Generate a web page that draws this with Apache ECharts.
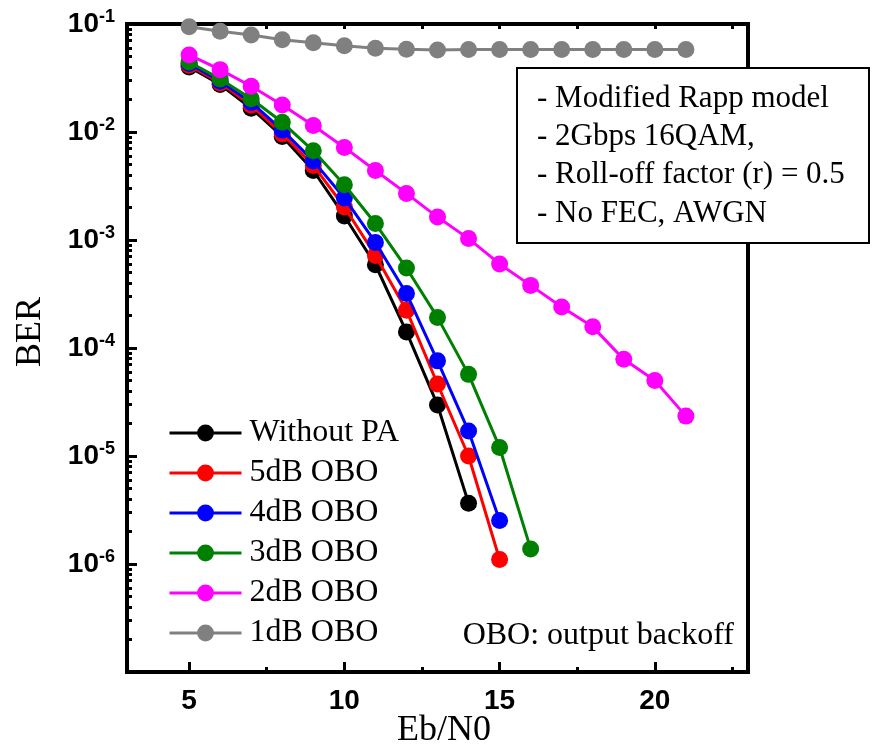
<!DOCTYPE html>
<html>
<head>
<meta charset="utf-8">
<script src="https://cdn.jsdelivr.net/npm/echarts@6/dist/echarts.min.js"></script>
<style>html,body{margin:0;padding:0;background:#fff}#c{width:881px;height:744px}</style>
</head>
<body>
<div id="c"></div>
<script>
// ---- data ----
const seriesNames = ['Without PA', '5dB OBO', '4dB OBO', '3dB OBO', '2dB OBO', '1dB OBO'];
const seriesColors = ['#000000', '#ff0000', '#0000ff', '#008000', '#ff00ff', '#808080'];
const ebn0Long = [5, 6, 7, 8, 9, 10, 11, 12, 13, 14, 15, 16, 17, 18, 19, 20, 21];
const ebn0_3dB = [5, 6, 7, 8, 9, 10, 11, 12, 13, 14, 15, 16];
const ebn0_45dB = [5, 6, 7, 8, 9, 10, 11, 12, 13, 14, 15];
const ebn0_noPA = [5, 6, 7, 8, 9, 10, 11, 12, 13, 14];
const berNoPA = [0.040, 0.0275, 0.0166, 0.0091, 0.0044, 0.00167, 0.00059, 0.000141, 2.97e-5, 3.66e-6];
const ber5dB = [0.0415, 0.0285, 0.0177, 0.0096, 0.0049, 0.00202, 0.00072, 0.000224, 4.64e-5, 1.0e-5, 1.1e-6];
const ber4dB = [0.043, 0.0295, 0.0188, 0.0104, 0.0054, 0.00245, 0.00095, 0.00032, 7.6e-5, 1.7e-5, 2.53e-6];
const ber3dB = [0.0445, 0.031, 0.0203, 0.0123, 0.0067, 0.00325, 0.00142, 0.00055, 0.000192, 5.7e-5, 1.2e-5, 1.38e-6];
const ber2dB = [0.0517, 0.0378, 0.0265, 0.0178, 0.0115, 0.0072, 0.0044, 0.0027, 0.00163, 0.00103, 0.0006, 0.00038, 0.00024, 0.000157, 7.85e-5, 5.0e-5, 2.34e-5];
const ber1dB = [0.0944, 0.0856, 0.0791, 0.0716, 0.0672, 0.063, 0.0596, 0.0583, 0.0575, 0.058, 0.058, 0.058, 0.058, 0.058, 0.058, 0.058, 0.058];
const xLabelValues = [5, 10, 15, 20];
const xMinorTickValues = [7.5, 12.5, 17.5, 22.5];
const xTopTickValues = [5, 7.5, 10, 12.5, 15, 17.5, 20, 22.5];
const yExponents = [-7, -6, -5, -4, -3, -2, -1];
const infoLines = ['- Modified Rapp model', '- 2Gbps 16QAM,', '- Roll-off factor (r) = 0.5', '- No FEC, AWGN'];
const noteText = 'OBO: output backoff';

// ---- build ----
const xs = [ebn0_noPA, ebn0_45dB, ebn0_45dB, ebn0_3dB, ebn0Long, ebn0Long];
const ys = [berNoPA, ber5dB, ber4dB, ber3dB, ber2dB, ber1dB];
const yMajor = yExponents.map(e => Math.pow(10, e));
const yMinor = [];
yExponents.slice(0, -1).forEach(e => { for (let m = 2; m <= 9; m++) yMinor.push(m * Math.pow(10, e)); });

const serif = '"Liberation Serif", "Times New Roman", serif';
const sans = '"Liberation Sans", Arial, sans-serif';

const series = seriesNames.map((n, i) => ({
  name: n,
  type: 'line',
  data: xs[i].map((x, j) => [x, ys[i][j]]),
  symbol: 'circle',
  symbolSize: 17,
  color: seriesColors[i],
  lineStyle: { width: 3, color: seriesColors[i] },
  itemStyle: { color: seriesColors[i] },
  z: 2 + i
}));

const chart = echarts.init(document.getElementById('c'), null, { renderer: 'canvas' });
const gridTop = 24, gridLeft = 127, gridRight = 133, gridBottom = 72;

const graphics = [
  {
    type: 'rect', left: 516, top: 67, z: 100,
    shape: { width: 352, height: 175 },
    style: { fill: '#fff', stroke: '#000', lineWidth: 2 }
  }
];
infoLines.forEach((t, i) => {
  graphics.push({
    type: 'text', left: 537, top: 99 + i * 38.3 - 16, z: 101,
    style: { text: t, fill: '#000', font: '31px ' + serif }
  });
});
graphics.push({
  type: 'text', right: 881 - 734, top: 637 - 17, z: 101,
  style: { text: noteText, fill: '#000', font: '32px ' + serif }
});

chart.setOption({
  animation: false,
  backgroundColor: '#fff',
  grid: { left: gridLeft, right: gridRight, top: gridTop, bottom: gridBottom, outerBoundsMode: 'none', containLabel: false, show: true, borderColor: '#000', borderWidth: 4, backgroundColor: 'transparent' },
  legend: {
    orient: 'vertical', left: 163, top: 412,
    itemWidth: 72, itemHeight: 21, itemGap: 8,
    data: seriesNames,
    lineStyle: { width: 3 },
    textStyle: { fontFamily: serif, fontSize: 32, color: '#000', padding: [0, 0, 0, 3] }
  },
  xAxis: [
    {
      type: 'value', min: 3, max: 23, position: 'bottom',
      name: 'Eb/N0', nameLocation: 'middle', nameGap: 41, nameMoveOverlap: false,
      nameTextStyle: { fontFamily: serif, fontSize: 36, color: '#000', padding: [0, 0, 0, 13] },
      axisLine: { show: false },
      splitLine: { show: false },
      axisTick: { show: true, inside: true, length: 10, lineStyle: { width: 3, color: '#000' }, customValues: xLabelValues },
      axisLabel: { show: true, margin: 15, fontFamily: sans, fontWeight: 'bold', fontSize: 28, color: '#000', customValues: xLabelValues }
    },
    {
      type: 'value', min: 3, max: 23, position: 'bottom',
      axisLine: { show: false }, splitLine: { show: false }, axisLabel: { show: false },
      axisTick: { show: true, inside: true, length: 5, lineStyle: { width: 3, color: '#000' }, customValues: xMinorTickValues }
    },
    {
      type: 'value', min: 3, max: 23, position: 'top',
      axisLine: { show: false }, splitLine: { show: false }, axisLabel: { show: false },
      axisTick: { show: true, inside: true, length: 5, lineStyle: { width: 3, color: '#000' }, customValues: xTopTickValues }
    }
  ],
  yAxis: [
    {
      type: 'log', logBase: 10, min: 1e-7, max: 1e-1, position: 'left',
      name: 'BER', nameLocation: 'middle', nameGap: 78, nameRotate: 90, nameMoveOverlap: false,
      nameTextStyle: { fontFamily: serif, fontSize: 36, color: '#000', padding: [0, 0, 0, 32] },
      axisLine: { show: false }, splitLine: { show: false }, minorTick: { show: false },
      axisTick: { show: true, inside: true, length: 10, lineStyle: { width: 3, color: '#000' }, customValues: yMajor },
      axisLabel: {
        show: true, margin: 12, customValues: yMajor.slice(1),
        formatter: v => '{b|10}{s|' + Math.round(Math.log10(v)) + '}',
        rich: {
          b: { fontFamily: sans, fontWeight: 'bold', fontSize: 28, color: '#000' },
          s: { fontFamily: sans, fontWeight: 'bold', fontSize: 18, color: '#000', verticalAlign: 'bottom', padding: [0, 0, 14, 0] }
        }
      }
    },
    {
      type: 'log', logBase: 10, min: 1e-7, max: 1e-1, position: 'left',
      axisLine: { show: false }, splitLine: { show: false }, axisLabel: { show: false },
      axisTick: { show: true, inside: true, length: 5, lineStyle: { width: 3, color: '#000' }, customValues: yMinor }
    }
  ],
  series: series,
  graphic: graphics
});
</script>
</body>
</html>
